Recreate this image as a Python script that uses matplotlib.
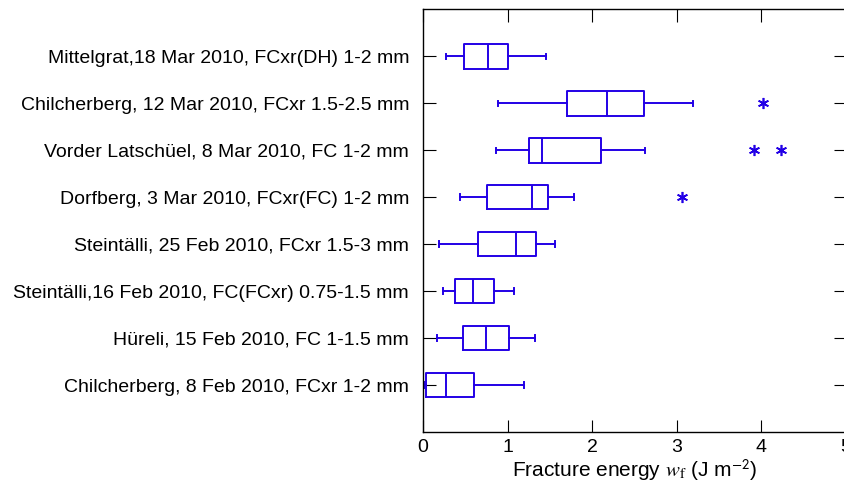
import numpy as np
import matplotlib
matplotlib.use('Agg')
import matplotlib.pyplot as plt

# Box-plot statistics (bottom row first)
labels = [
    'Chilcherberg, 8 Feb 2010, FCxr 1-2 mm',
    'Hüreli, 15 Feb 2010, FC 1-1.5 mm',
    'Steintälli,16 Feb 2010, FC(FCxr) 0.75-1.5 mm',
    'Steintälli, 25 Feb 2010, FCxr 1.5-3 mm',
    'Dorfberg, 3 Mar 2010, FCxr(FC) 1-2 mm',
    'Vorder Latschüel, 8 Mar 2010, FC 1-2 mm',
    'Chilcherberg, 12 Mar 2010, FCxr 1.5-2.5 mm',
    'Mittelgrat,18 Mar 2010, FCxr(DH) 1-2 mm',
]
whis_lo = [0.01, 0.17, 0.24, 0.19, 0.44, 0.86, 0.89, 0.27]
q1 = [0.04, 0.47, 0.38, 0.65, 0.76, 1.25, 1.70, 0.49]
median = [0.27, 0.74, 0.59, 1.10, 1.29, 1.41, 2.18, 0.77]
q3 = [0.60, 1.02, 0.84, 1.34, 1.48, 2.11, 2.62, 1.00]
whis_hi = [1.19, 1.32, 1.08, 1.56, 1.79, 2.63, 3.20, 1.46]
outliers = [[], [], [], [], [3.07], [3.92, 4.24], [4.02], []]

blue = '#2200e6'
plt.rcParams['font.family'] = ['Liberation Sans', 'DejaVu Sans']
plt.rcParams['mathtext.fontset'] = 'stix'

stats = []
for i in range(len(labels)):
    stats.append(dict(whislo=whis_lo[i], q1=q1[i], med=median[i], q3=q3[i],
                      whishi=whis_hi[i], fliers=outliers[i], label=labels[i]))

fig = plt.figure(figsize=(8.44, 4.84), dpi=100)
ax = fig.add_axes([0.5012, 0.1074, 0.5006, 0.873])

line_kw = dict(color=blue, linewidth=1.4)
ax.bxp(stats, positions=np.arange(1, len(labels) + 1), orientation='horizontal',
       widths=0.52, capwidths=0.12, showfliers=True,
       boxprops=line_kw, whiskerprops=line_kw, capprops=line_kw, medianprops=line_kw,
       flierprops=dict(marker=(6, 2, 0), markersize=8, markeredgewidth=1.2,
                       markerfacecolor=blue, markeredgecolor=blue, linestyle='none'))

ax.set_xlim(0, 5)
ax.set_ylim(0, 9)
ax.set_xticks([0, 1, 2, 3, 4, 5])
ax.set_yticks(np.arange(1, len(labels) + 1))
ax.set_yticklabels(labels, fontsize=14)
ax.tick_params(axis='x', labelsize=14, pad=5)
ax.tick_params(axis='y', pad=10)
ax.tick_params(direction='in', length=9, width=0.8, top=True, right=True)
for sp in ax.spines.values():
    sp.set_linewidth(1.0)

ax.set_xlabel(r'Fracture energy $w_{\mathrm{f}}$ (J m$^{\mathsf{-2}}$)', fontsize=15, labelpad=1)

fig.savefig('out.png', dpi=100)
